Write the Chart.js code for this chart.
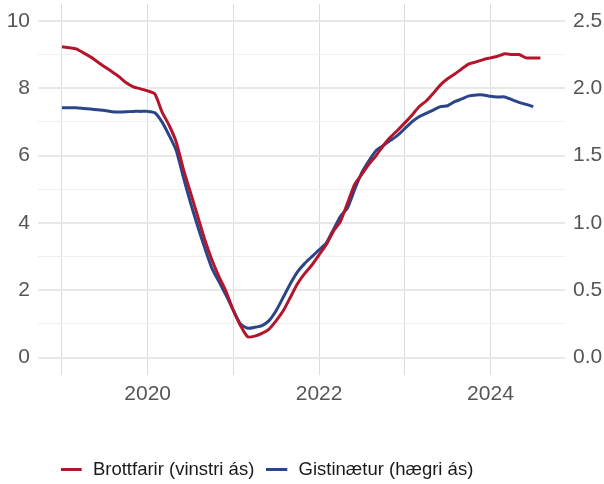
<!DOCTYPE html>
<html>
<head>
<meta charset="utf-8">
<script src="https://cdn.jsdelivr.net/npm/chart.js@4"></script>
<style>
  html, body { margin: 0; padding: 0; background: #ffffff; }
  #wrap { width: 604px; height: 484px; position: relative; }
</style>
</head>
<body>
<div id="wrap"><canvas id="c" width="604" height="484"></canvas></div>
<script>
// Monthly series starting January 2019
const startYear = 2019;

// Brottfarir (left axis)
const brottfarir = [
  9.23, 9.20, 9.17, 9.05, 8.93, 8.78, 8.63, 8.49, 8.34, 8.16, 8.04, 7.98,
  7.92, 7.83, 7.30, 6.90, 6.40, 5.60, 4.90, 4.20, 3.50, 2.90, 2.40, 1.95,
  1.40, 0.95, 0.62, 0.64, 0.72, 0.85, 1.10, 1.40, 1.80, 2.20, 2.50, 2.75,
  3.05, 3.35, 3.75, 4.05, 4.60, 5.15, 5.45, 5.75, 6.00, 6.30, 6.55, 6.75,
  6.97, 7.20, 7.45, 7.62, 7.85, 8.10, 8.28, 8.42, 8.58, 8.72, 8.78, 8.85,
  8.90, 8.95, 9.02, 9.00, 9.00, 8.90, 8.90, 8.90
];

// Gistinætur (right axis)
const gistinaetur = [
  1.855, 1.855, 1.855, 1.850, 1.845, 1.840, 1.835, 1.825, 1.823, 1.825, 1.828, 1.828,
  1.828, 1.818, 1.750, 1.650, 1.538, 1.338, 1.150, 0.975, 0.813, 0.663, 0.563, 0.460,
  0.350, 0.250, 0.218, 0.225, 0.238, 0.275, 0.350, 0.450, 0.550, 0.638, 0.700, 0.750,
  0.800, 0.850, 0.950, 1.050, 1.113, 1.250, 1.375, 1.463, 1.538, 1.575, 1.613, 1.650,
  1.700, 1.750, 1.788, 1.813, 1.838, 1.863, 1.870, 1.900, 1.920, 1.943, 1.950, 1.950,
  1.940, 1.935, 1.935, 1.915, 1.895, 1.880, 1.863
];

const xTicks = [2019, 2020, 2021, 2022, 2023, 2024];
const xLabels = [2020, 2022, 2024];
const leftTicks = [0, 1, 2, 3, 4, 5, 6, 7, 8, 9, 10];
const leftLabels = [0, 2, 4, 6, 8, 10];
const rightTicks = [0, 0.25, 0.5, 0.75, 1, 1.25, 1.5, 1.75, 2, 2.25, 2.5];
const rightLabels = [0, 0.5, 1, 1.5, 2, 2.5];

const seriesNames = ['Brottfarir (vinstri ás)', 'Gistinætur (hægri ás)'];
const colors = ['#b3162c', '#2b4589'];

function toPoints(arr) {
  return arr.map((v, i) => ({ x: startYear + i / 12, y: v }));
}

// legend key: a short line, with a little blank space after it
function legendKey(color) {
  const cv = document.createElement('canvas');
  cv.width = 23; cv.height = 3;
  const g = cv.getContext('2d');
  g.fillStyle = color;
  g.fillRect(0, 0, 21, 3);
  return cv;
}

const tickFont = { family: 'Liberation Sans, Arial, sans-serif', size: 21 };
const tickColor = '#555555';

function noVPad(axis) {
  axis.paddingTop = 0;
  axis.paddingBottom = 0;
}

const legendShift = {
  id: 'legendShift',
  afterLayout(chart) {
    const lg = chart.legend;
    if (!lg) return;
    lg.left -= 35; lg.right -= 35;
    lg.top += 5; lg.bottom += 5;
  }
};

new Chart(document.getElementById('c'), {
  type: 'line',
  data: {
    datasets: [
      {
        label: seriesNames[0],
        data: toPoints(brottfarir),
        borderColor: colors[0],
        backgroundColor: colors[0],
        borderWidth: 3,
        pointRadius: 0,
        pointStyle: legendKey(colors[0]),
        tension: 0.2,
        yAxisID: 'y'
      },
      {
        label: seriesNames[1],
        data: toPoints(gistinaetur),
        borderColor: colors[1],
        backgroundColor: colors[1],
        borderWidth: 3,
        pointRadius: 0,
        pointStyle: legendKey(colors[1]),
        tension: 0.2,
        yAxisID: 'y2'
      }
    ]
  },
  plugins: [legendShift],
  options: {
    responsive: false,
    animation: false,
    events: [],
    layout: { padding: { top: 4, left: 0, right: 0, bottom: 0 } },
    plugins: {
      tooltip: { enabled: false },
      legend: {
        position: 'bottom',
        labels: {
          font: { family: 'Liberation Sans, Arial, sans-serif', size: 18.5 },
          color: '#1a1a1a',
          usePointStyle: true,
          pointStyleWidth: 23,
          boxHeight: 18,
          padding: 12
        }
      }
    },
    scales: {
      x: {
        type: 'linear',
        min: 2018.72,
        max: 2024.87,
        afterBuildTicks: (axis) => { axis.ticks = xTicks.map(v => ({ value: v })); },
        afterFit: (axis) => { axis.height = 69; axis.paddingLeft = 0; axis.paddingRight = 0; },
        ticks: {
          autoSkip: false,
          maxRotation: 0,
          padding: 7,
          font: tickFont,
          color: tickColor,
          callback: (v) => xLabels.includes(v) ? String(v) : ''
        },
        grid: { color: '#dcdcdc', lineWidth: 1, drawTicks: false },
        border: { display: false }
      },
      y: {
        position: 'left',
        min: -0.5,
        max: 10.5,
        afterBuildTicks: (axis) => { axis.ticks = leftTicks.map(v => ({ value: v })); },
        afterFit: (axis) => { axis.width = 38; noVPad(axis); },
        ticks: {
          autoSkip: false,
          padding: 8,
          font: tickFont,
          color: tickColor,
          callback: (v) => leftLabels.includes(v) ? String(v) : ''
        },
        grid: {
          drawTicks: false,
          color: (ctx) => (ctx.tick && ctx.tick.value % 2 === 0) ? '#e8e8e8' : '#efefef',
          lineWidth: (ctx) => (ctx.tick && ctx.tick.value % 2 === 0) ? 2 : 1
        },
        border: { display: false }
      },
      y2: {
        position: 'right',
        min: -0.125,
        max: 2.625,
        afterBuildTicks: (axis) => { axis.ticks = rightTicks.map(v => ({ value: v })); },
        afterFit: (axis) => { axis.width = 39; noVPad(axis); },
        ticks: {
          autoSkip: false,
          padding: 8,
          font: tickFont,
          color: tickColor,
          callback: (v) => rightLabels.includes(v) ? v.toFixed(1) : ''
        },
        grid: { display: false, drawTicks: false },
        border: { display: false }
      }
    }
  }
});
</script>
</body>
</html>
